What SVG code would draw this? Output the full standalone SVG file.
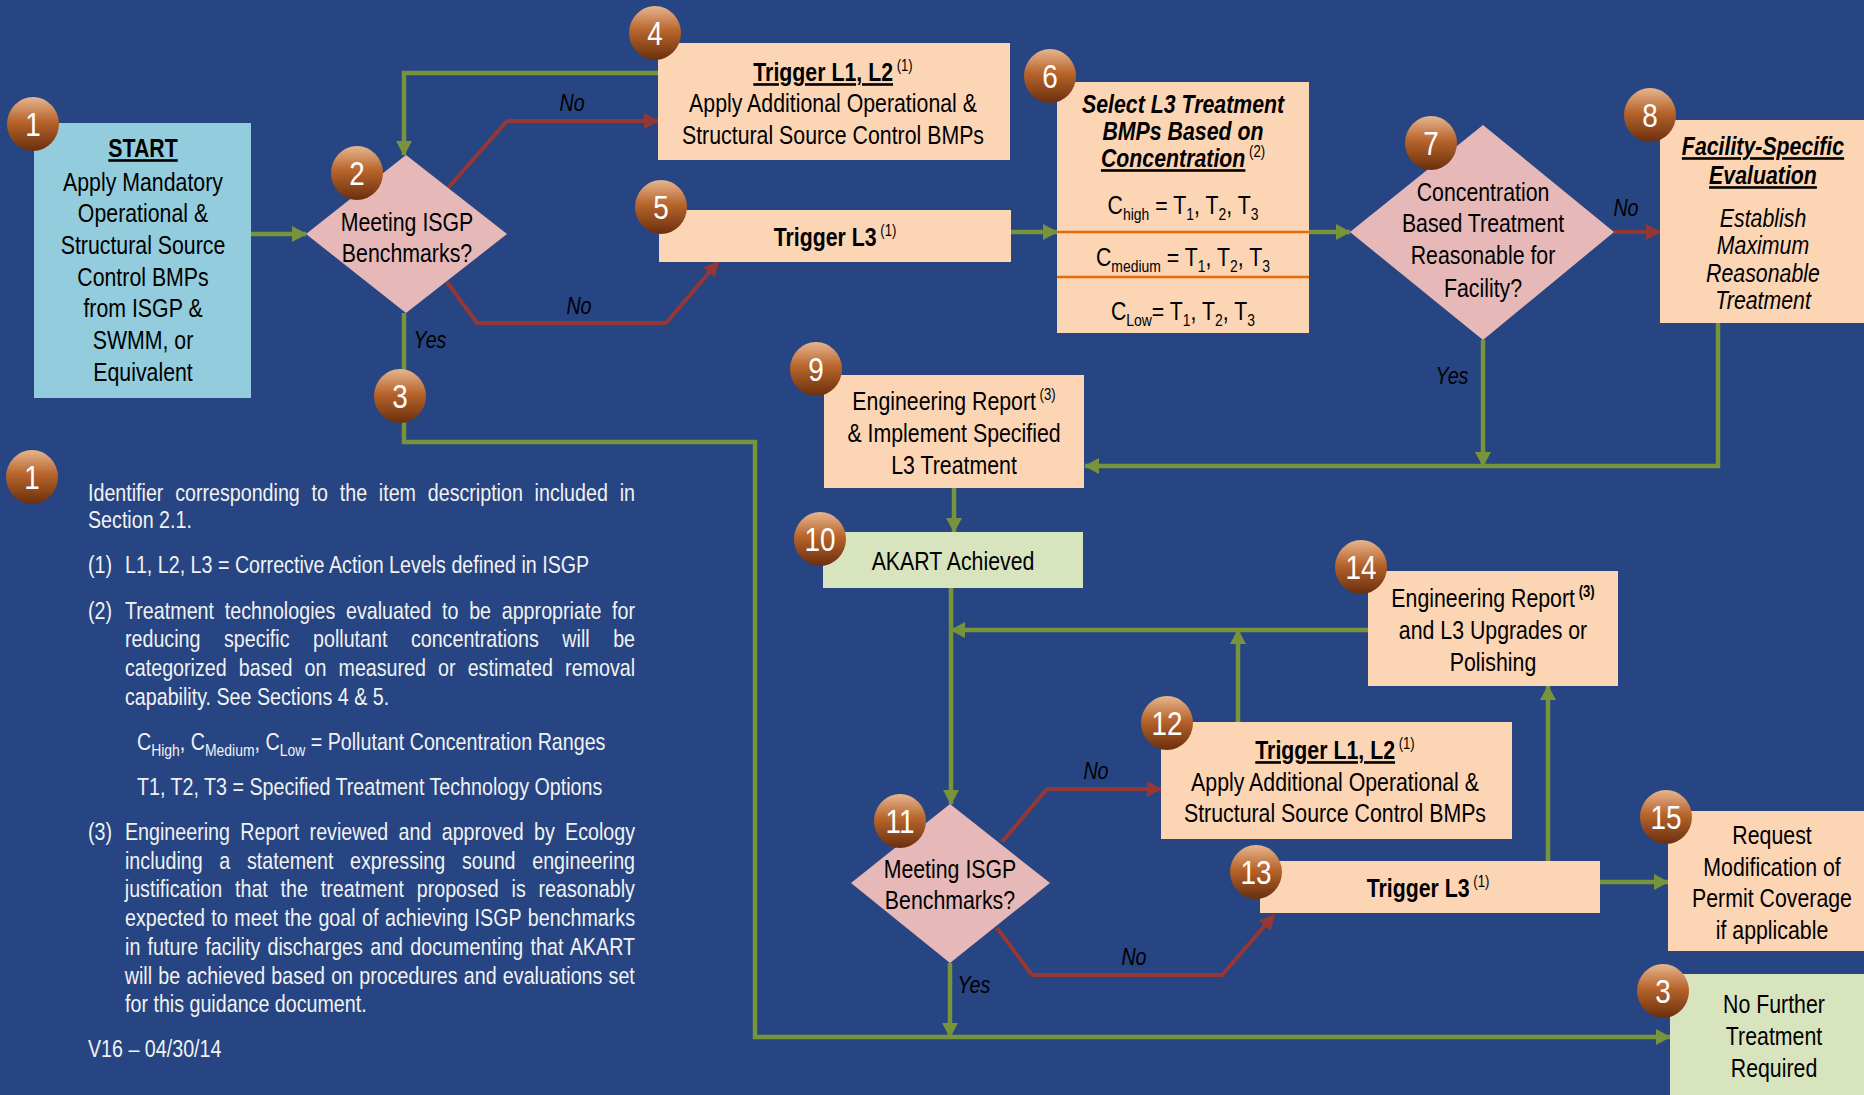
<svg xmlns="http://www.w3.org/2000/svg" width="1864" height="1095" viewBox="0 0 1864 1095">
<defs>
<linearGradient id="bgrad" x1="0" y1="0" x2="0" y2="1">
<stop offset="0" stop-color="#e6b690"/>
<stop offset="0.45" stop-color="#b8652c"/>
<stop offset="1" stop-color="#6a2f0e"/>
</linearGradient>
<marker id="ag" viewBox="0 0 15 16" refX="14" refY="8" markerWidth="15" markerHeight="16" markerUnits="userSpaceOnUse" orient="auto"><path d="M0,0 L15,8 L0,16 z" fill="#77933c"/></marker>
<marker id="ar" viewBox="0 0 15 16" refX="14" refY="8" markerWidth="15" markerHeight="16" markerUnits="userSpaceOnUse" orient="auto"><path d="M0,0 L15,8 L0,16 z" fill="#953735"/></marker>
<style>
.t{font-family:'Liberation Sans',Arial,sans-serif;font-size:26px;fill:#000;text-anchor:middle;transform:scaleX(0.82);transform-box:fill-box;transform-origin:center}
.b{font-weight:bold}
.i{font-style:italic}
.u{text-decoration:underline}
.lg{font-family:'Liberation Sans',Arial,sans-serif;font-size:24px;fill:#f2f2f2;transform:scaleX(0.82);transform-box:fill-box;transform-origin:left center}
.peach{fill:#fcd5b5}
.blue{fill:#93cddd}
.pink{fill:#e6b9b8}
.lgreen{fill:#d7e4bd}
.cg{fill:none;stroke:#77933c;stroke-width:4.5}
.cr{fill:none;stroke:#953735;stroke-width:4}
.bn{fill:#fff;font-size:34px}
.lab{font-size:24px;font-style:italic}
.sup{font-size:16px}
.sub{font-size:17px}
.badge ellipse{fill:url(#bgrad)}
</style>
</defs>
<rect x="0" y="0" width="1864" height="1095" fill="#264582"/>

<g id="connectors">
<path class="cg" d="M251,234 H306" marker-end="url(#ag)"/>
<path class="cg" d="M658,73 H404 V155" marker-end="url(#ag)"/>
<path class="cr" d="M448,188 L507,121 H658" marker-end="url(#ar)"/>
<path class="cr" d="M447,282 L477,323 H666 L718,262" marker-end="url(#ar)"/>
<path class="cg" d="M1011,232 H1057" marker-end="url(#ag)"/>
<path class="cg" d="M1309,232 H1350" marker-end="url(#ag)"/>
<path class="cr" d="M1614,232 H1660" marker-end="url(#ar)"/>
<path class="cg" d="M1718,323 V466 H1085" marker-end="url(#ag)"/>
<path class="cg" d="M1483,340 V466" marker-end="url(#ag)"/>
<path class="cg" d="M954,488 V532" marker-end="url(#ag)"/>
<path class="cg" d="M951,588 V804" marker-end="url(#ag)"/>
<path class="cg" d="M1368,630 H951" marker-end="url(#ag)"/>
<path class="cg" d="M1238,722 V630" marker-end="url(#ag)"/>
<path class="cg" d="M1548,861 V686" marker-end="url(#ag)"/>
<path class="cg" d="M1600,882 H1668" marker-end="url(#ag)"/>
<path class="cr" d="M1002,842 L1047,789 H1161" marker-end="url(#ar)"/>
<path class="cr" d="M997,928 L1032,975 H1222 L1274,915" marker-end="url(#ar)"/>
<path class="cg" d="M950,963 V1037" marker-end="url(#ag)"/>
<path class="cg" d="M404,313 V442 H755 V1037 H1670" marker-end="url(#ag)"/>
<text class="t lab" x="430" y="348">Yes</text>
<text class="t lab" x="572" y="111">No</text>
<text class="t lab" x="579" y="314">No</text>
<text class="t lab" x="1626" y="216">No</text>
<text class="t lab" x="1452" y="384">Yes</text>
<text class="t lab" x="1096" y="779">No</text>
<text class="t lab" x="1134" y="965">No</text>
<text class="t lab" x="974" y="993">Yes</text>
</g>

<g id="node1">
<rect class="blue" x="34" y="123" width="217" height="275"/>
<text class="t b u" x="143" y="157">START</text>
<text class="t" x="143" y="191">Apply Mandatory</text>
<text class="t" x="143" y="222">Operational &amp;</text>
<text class="t" x="143" y="254">Structural Source</text>
<text class="t" x="143" y="286">Control BMPs</text>
<text class="t" x="143" y="317">from ISGP &amp;</text>
<text class="t" x="143" y="349">SWMM, or</text>
<text class="t" x="143" y="381">Equivalent</text>
<g class="badge"><ellipse cx="33" cy="124" rx="26" ry="27"/><text class="t bn" x="33" y="136">1</text></g>
</g>

<g id="node2">
<polygon class="pink" points="406,155 507,234 406,313 306,234"/>
<text class="t" x="407" y="231">Meeting ISGP</text>
<text class="t" x="407" y="262">Benchmarks?</text>
<g class="badge"><ellipse cx="357" cy="173" rx="26" ry="27"/><text class="t bn" x="357" y="185">2</text></g>
</g>

<g id="node3a">
<g class="badge"><ellipse cx="400" cy="396" rx="26" ry="27"/><text class="t bn" x="400" y="408">3</text></g>
</g>

<g id="node4">
<rect class="peach" x="658" y="43" width="352" height="117"/>
<text class="t" x="833" y="81"><tspan class="b u">Trigger L1, L2</tspan><tspan class="sup" dy="-10"> (1)</tspan></text>
<text class="t" x="833" y="112">Apply Additional Operational &amp;</text>
<text class="t" x="833" y="144">Structural Source Control BMPs</text>
<g class="badge"><ellipse cx="655" cy="33" rx="26" ry="27"/><text class="t bn" x="655" y="45">4</text></g>
</g>

<g id="node5">
<rect class="peach" x="659" y="210" width="352" height="52"/>
<text class="t" x="835" y="246"><tspan class="b">Trigger L3</tspan><tspan class="sup" dy="-10"> (1)</tspan></text>
<g class="badge"><ellipse cx="661" cy="207" rx="26" ry="27"/><text class="t bn" x="661" y="219">5</text></g>
</g>

<g id="node6">
<rect class="peach" x="1057" y="82" width="252" height="251"/>
<line x1="1057" y1="232" x2="1309" y2="232" stroke="#e46c0a" stroke-width="2.5"/>
<line x1="1057" y1="277" x2="1309" y2="277" stroke="#e46c0a" stroke-width="2.5"/>
<text class="t b i" x="1183" y="113">Select L3 Treatment</text>
<text class="t b i" x="1183" y="140">BMPs Based on</text>
<text class="t" x="1183" y="167"><tspan class="b i u">Concentration</tspan><tspan class="sup" dy="-10"> (2)</tspan></text>
<text class="t" x="1183" y="214">C<tspan class="sub" dy="6">high</tspan><tspan dy="-6"> = T</tspan><tspan class="sub" dy="6">1</tspan><tspan dy="-6">, T</tspan><tspan class="sub" dy="6">2</tspan><tspan dy="-6">, T</tspan><tspan class="sub" dy="6">3</tspan></text>
<text class="t" x="1183" y="266">C<tspan class="sub" dy="6">medium</tspan><tspan dy="-6"> = T</tspan><tspan class="sub" dy="6">1</tspan><tspan dy="-6">, T</tspan><tspan class="sub" dy="6">2</tspan><tspan dy="-6">, T</tspan><tspan class="sub" dy="6">3</tspan></text>
<text class="t" x="1183" y="320">C<tspan class="sub" dy="6">Low</tspan><tspan dy="-6">= T</tspan><tspan class="sub" dy="6">1</tspan><tspan dy="-6">, T</tspan><tspan class="sub" dy="6">2</tspan><tspan dy="-6">, T</tspan><tspan class="sub" dy="6">3</tspan></text>
<g class="badge"><ellipse cx="1050" cy="76" rx="26" ry="27"/><text class="t bn" x="1050" y="88">6</text></g>
</g>

<g id="node7">
<polygon class="pink" points="1483,125 1614,232 1483,340 1350,232"/>
<text class="t" x="1483" y="201">Concentration</text>
<text class="t" x="1483" y="232">Based Treatment</text>
<text class="t" x="1483" y="264">Reasonable for</text>
<text class="t" x="1483" y="297">Facility?</text>
<g class="badge"><ellipse cx="1431" cy="143" rx="26" ry="27"/><text class="t bn" x="1431" y="155">7</text></g>
</g>

<g id="node8">
<rect class="peach" x="1660" y="120" width="204" height="203"/>
<text class="t b i u" x="1763" y="155">Facility-Specific</text>
<text class="t b i u" x="1763" y="184">Evaluation</text>
<text class="t i" x="1763" y="227">Establish</text>
<text class="t i" x="1763" y="254">Maximum</text>
<text class="t i" x="1763" y="282">Reasonable</text>
<text class="t i" x="1763" y="309">Treatment</text>
<g class="badge"><ellipse cx="1650" cy="115" rx="26" ry="27"/><text class="t bn" x="1650" y="127">8</text></g>
</g>

<g id="node9">
<rect class="peach" x="824" y="375" width="260" height="113"/>
<text class="t" x="954" y="410">Engineering Report<tspan class="sup" dy="-10"> (3)</tspan></text>
<text class="t" x="954" y="442">&amp; Implement Specified</text>
<text class="t" x="954" y="474">L3 Treatment</text>
<g class="badge"><ellipse cx="816" cy="369" rx="26" ry="27"/><text class="t bn" x="816" y="381">9</text></g>
</g>

<g id="node10">
<rect class="lgreen" x="823" y="532" width="260" height="56"/>
<text class="t" x="953" y="570">AKART Achieved</text>
<g class="badge"><ellipse cx="820" cy="539" rx="26" ry="27"/><text class="t bn" x="820" y="551">10</text></g>
</g>

<g id="node11">
<polygon class="pink" points="950,804 1050,883 950,963 851,883"/>
<text class="t" x="950" y="878">Meeting ISGP</text>
<text class="t" x="950" y="909">Benchmarks?</text>
<g class="badge"><ellipse cx="900" cy="821" rx="26" ry="27"/><text class="t bn" x="900" y="833">11</text></g>
</g>

<g id="node12">
<rect class="peach" x="1161" y="722" width="351" height="117"/>
<text class="t" x="1335" y="759"><tspan class="b u">Trigger L1, L2</tspan><tspan class="sup" dy="-10"> (1)</tspan></text>
<text class="t" x="1335" y="791">Apply Additional Operational &amp;</text>
<text class="t" x="1335" y="822">Structural Source Control BMPs</text>
<g class="badge"><ellipse cx="1167" cy="723" rx="26" ry="27"/><text class="t bn" x="1167" y="735">12</text></g>
</g>

<g id="node13">
<rect class="peach" x="1260" y="861" width="340" height="52"/>
<text class="t" x="1428" y="897"><tspan class="b">Trigger L3</tspan><tspan class="sup" dy="-10"> (1)</tspan></text>
<g class="badge"><ellipse cx="1256" cy="872" rx="26" ry="27"/><text class="t bn" x="1256" y="884">13</text></g>
</g>

<g id="node14">
<rect class="peach" x="1368" y="571" width="250" height="115"/>
<text class="t" x="1493" y="607">Engineering Report<tspan class="sup b" dy="-10"> (3)</tspan></text>
<text class="t" x="1493" y="639">and L3 Upgrades or</text>
<text class="t" x="1493" y="671">Polishing</text>
<g class="badge"><ellipse cx="1361" cy="567" rx="26" ry="27"/><text class="t bn" x="1361" y="579">14</text></g>
</g>

<g id="node15">
<rect class="peach" x="1668" y="811" width="196" height="140"/>
<text class="t" x="1772" y="844">Request</text>
<text class="t" x="1772" y="876">Modification of</text>
<text class="t" x="1772" y="907">Permit Coverage</text>
<text class="t" x="1772" y="939">if applicable</text>
<g class="badge"><ellipse cx="1666" cy="817" rx="26" ry="27"/><text class="t bn" x="1666" y="829">15</text></g>
</g>

<g id="node3b">
<rect class="lgreen" x="1670" y="974" width="194" height="121"/>
<text class="t" x="1774" y="1013">No Further</text>
<text class="t" x="1774" y="1045">Treatment</text>
<text class="t" x="1774" y="1077">Required</text>
<g class="badge"><ellipse cx="1663" cy="991" rx="26" ry="27"/><text class="t bn" x="1663" y="1003">3</text></g>
</g>

<g id="legend">
<g class="badge"><ellipse cx="32" cy="477" rx="26" ry="27"/><text class="t bn" x="32" y="489">1</text></g>
<text class="lg" x="88" y="501" word-spacing="7.7" textLength="667" lengthAdjust="spacing">Identifier corresponding to the item description included in</text>
<text class="lg" x="88" y="528">Section 2.1.</text>
<text class="lg" x="88" y="573">(1)</text>
<text class="lg" x="125" y="573">L1, L2, L3 = Corrective Action Levels defined in ISGP</text>
<text class="lg" x="88" y="619">(2)</text>
<text class="lg" x="125" y="619" word-spacing="6.3" textLength="622" lengthAdjust="spacing">Treatment technologies evaluated to be appropriate for</text>
<text class="lg" x="125" y="647" word-spacing="22" textLength="622" lengthAdjust="spacing">reducing specific pollutant concentrations will be</text>
<text class="lg" x="125" y="676" word-spacing="8.1" textLength="622" lengthAdjust="spacing">categorized based on measured or estimated removal</text>
<text class="lg" x="125" y="705">capability. See Sections 4 &amp; 5.</text>
<text class="lg" x="137" y="750">C<tspan class="sub" dy="6">High</tspan><tspan dy="-6">, C</tspan><tspan class="sub" dy="6">Medium</tspan><tspan dy="-6">, C</tspan><tspan class="sub" dy="6">Low</tspan><tspan dy="-6"> = Pollutant Concentration Ranges</tspan></text>
<text class="lg" x="137" y="795">T1, T2, T3 = Specified Treatment Technology Options</text>
<text class="lg" x="88" y="840">(3)</text>
<text class="lg" x="125" y="840" word-spacing="5.9" textLength="622" lengthAdjust="spacing">Engineering Report reviewed and approved by Ecology</text>
<text class="lg" x="125" y="869" word-spacing="13.7" textLength="622" lengthAdjust="spacing">including a statement expressing sound engineering</text>
<text class="lg" x="125" y="897" word-spacing="8.9" textLength="622" lengthAdjust="spacing">justification that the treatment proposed is reasonably</text>
<text class="lg" x="125" y="926" word-spacing="1.2" textLength="622" lengthAdjust="spacing">expected to meet the goal of achieving ISGP benchmarks</text>
<text class="lg" x="125" y="955" word-spacing="2.1" textLength="622" lengthAdjust="spacing">in future facility discharges and documenting that AKART</text>
<text class="lg" x="125" y="984" word-spacing="0.9" textLength="622" lengthAdjust="spacing">will be achieved based on procedures and evaluations set</text>
<text class="lg" x="125" y="1012">for this guidance document.</text>
<text class="lg" x="88" y="1057">V16 – 04/30/14</text>
</g>
</svg>
